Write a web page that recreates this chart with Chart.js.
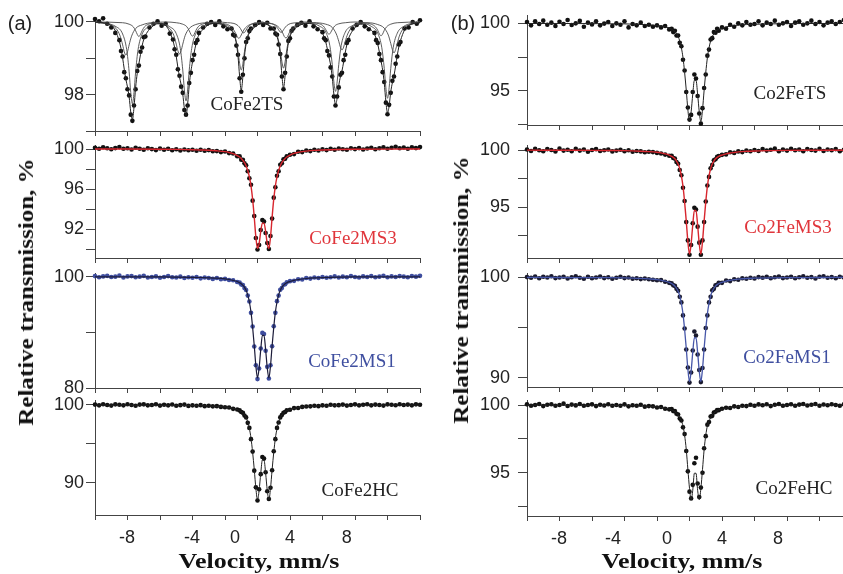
<!DOCTYPE html>
<html>
<head>
<meta charset="utf-8">
<script src="https://cdn.jsdelivr.net/npm/chart.js@4/dist/chart.umd.min.js"></script>
<style>
  body { margin: 0; width: 843px; height: 574px; overflow: hidden; background: #fff; position: relative; }
  canvas { position: absolute; }
  .txt { position: absolute; transform: translate(-50%, -50%); white-space: nowrap; line-height: 1; }
  .tag { font-family: "Liberation Sans", Arial, sans-serif; font-size: 20px; color: #222; }
  .name { font-family: "Liberation Serif", "Times New Roman", serif; font-size: 19px; color: #222; }
  .title { font-family: "Liberation Serif", "Times New Roman", serif; font-size: 20px; font-weight: bold; color: #111; }
  .ytitle { transform: translate(-50%, -50%) rotate(-90deg) scaleX(1.25); }
  .xtitle { transform: translate(-50%, -50%) scaleX(1.3); }
</style>
</head>
<body>
<canvas id="cofe2ts"></canvas>
<canvas id="cofe2ms3"></canvas>
<canvas id="cofe2ms1"></canvas>
<canvas id="cofe2hc"></canvas>
<canvas id="co2fets"></canvas>
<canvas id="co2fems3"></canvas>
<canvas id="co2fems1"></canvas>
<canvas id="co2fehc"></canvas>

<div class="txt tag" style="left:20px;top:23px">(a)</div>
<div class="txt tag" style="left:463px;top:23px">(b)</div>
<div class="txt name" style="left:247px;top:103px">CoFe2TS</div>
<div class="txt name" style="left:353px;top:237px;color:#e0353b">CoFe2MS3</div>
<div class="txt name" style="left:352px;top:360px;color:#3f4fa0">CoFe2MS1</div>
<div class="txt name" style="left:360px;top:489px">CoFe2HC</div>
<div class="txt name" style="left:790px;top:92px">Co2FeTS</div>
<div class="txt name" style="left:788px;top:226px;color:#e0353b">Co2FeMS3</div>
<div class="txt name" style="left:787px;top:356px;color:#3f4fa0">Co2FeMS1</div>
<div class="txt name" style="left:794px;top:487px">Co2FeHC</div>
<div class="txt title ytitle" style="left:26px;top:292px">Relative transmission, %</div>
<div class="txt title ytitle" style="left:461px;top:290px">Relative transmission, %</div>
<div class="txt title xtitle" style="left:259px;top:561px">Velocity, mm/s</div>
<div class="txt title xtitle" style="left:682px;top:561px">Velocity, mm/s</div>

<script>
// channel velocities (mm/s) of the doublet spectra
const velocity = [
  -10, -9.75, -9.5, -9.25, -9, -8.75, -8.5, -8.25, -8, -7.75, -7.5, -7.25, -7, -6.75, -6.5, -6.25, -6, -5.75,
  -5.5, -5.25, -5, -4.75, -4.5, -4.25, -4, -3.75, -3.5, -3.25, -3, -2.75, -2.5, -2.25, -2, -1.75, -1.5, -1.25,
  -1.1, -1, -0.9, -0.8, -0.7, -0.6, -0.5, -0.4, -0.3, -0.2, -0.1, 0, 0.1, 0.2, 0.3,
  0.4, 0.5, 0.6, 0.7, 0.8, 0.9, 1, 1.1, 1.2, 1.3, 1.4, 1.5, 1.6, 1.7, 1.8,
  2, 2.25, 2.5, 2.75, 3, 3.25, 3.5, 3.75, 4, 4.25, 4.5, 4.75, 5, 5.25, 5.5, 5.75, 6,
  6.25, 6.5, 6.75, 7, 7.25, 7.5, 7.75, 8, 8.25, 8.5, 8.75, 9, 9.25, 9.5, 9.75, 10
];
// velocities of the fitted curves
const fitVelocity = [
  -10, -8, -6, -5, -4, -3.5, -3, -2.5, -2, -1.75, -1.5, -1.25,
  -1.1, -1, -0.9, -0.8, -0.7, -0.6, -0.5, -0.4, -0.3, -0.2, -0.1, 0, 0.1, 0.2, 0.3,
  0.4, 0.5, 0.6, 0.7, 0.8, 0.9, 1, 1.1, 1.2, 1.3, 1.4, 1.5, 1.6, 1.7, 1.8,
  2, 2.25, 2.5, 2.75, 3, 3.5, 4, 5, 6, 8, 10
];

/* (a) CoFe2TS – magnetic sextet */
const sextetVelocity = [
  -10, -9.75, -9.5, -9.25, -9, -8.75,
  -8.5, -8.4, -8.3, -8.2, -8.1, -8, -7.9, -7.8, -7.7, -7.6, -7.5, -7.4, -7.3, -7.2, -7.1, -7, -6.9,
  -6.65, -6.4, -6.15, -5.9, -5.65, -5.4,
  -5.2, -5.1, -5, -4.9, -4.8, -4.7, -4.6, -4.5, -4.4, -4.3, -4.2, -4.1, -4, -3.9, -3.8, -3.7, -3.6,
  -3.35, -3.1, -2.85, -2.6, -2.35, -2.1, -1.85,
  -1.6, -1.5, -1.4, -1.3, -1.2, -1.1, -1, -0.9, -0.8, -0.7, -0.6, -0.5, -0.4,
  -0.15, 0.1, 0.35, 0.6, 0.8,
  1, 1.1, 1.2, 1.3, 1.4, 1.5, 1.6, 1.7, 1.8, 1.9, 2, 2.1, 2.2,
  2.45, 2.7, 2.95, 3.2, 3.45, 3.7,
  4, 4.1, 4.2, 4.3, 4.4, 4.5, 4.6, 4.7, 4.8, 4.9, 5, 5.1, 5.2, 5.3, 5.4, 5.5, 5.6,
  5.85, 6.1, 6.35, 6.6, 6.85,
  7.2, 7.3, 7.4, 7.5, 7.6, 7.7, 7.8, 7.9, 8, 8.1, 8.2, 8.3, 8.4, 8.5, 8.6, 8.7, 8.8,
  9.05, 9.3, 9.55, 9.8, 10
];
const sextetData = [
  100.08, 100.02, 100.1, 99.95, 99.85, 99.7,
  99.5, 99.2, 99.05, 98.62, 98.45, 98.15, 97.98, 97.45, 97.28, 97.7, 98.15, 98.65, 98.8, 99.18, 99.3, 99.58, 99.6,
  99.85, 99.95, 100.02, 99.9, 99.95, 99.68,
  99.52, 99.25, 99.1, 98.7, 98.52, 98.22, 98.05, 97.58, 97.45, 97.7, 98.32, 98.6, 98.95, 99.1, 99.42, 99.5, 99.7,
  99.85, 99.95, 100.0, 99.92, 100.02, 99.88, 99.8,
  99.82, 99.65, 99.62, 99.35, 99.1, 98.45, 98.08, 98.55, 99.0, 99.45, 99.55, 99.75, 99.82,
  99.92, 100.0, 99.92, 99.98, 99.82,
  99.82, 99.68, 99.65, 99.38, 99.12, 98.5, 98.15, 98.6, 99.05, 99.48, 99.55, 99.76, 99.82,
  99.92, 99.98, 99.9, 100.02, 99.88, 99.8,
  99.72, 99.55, 99.5, 99.2, 99.08, 98.75, 98.5, 97.95, 97.7, 97.95, 98.2, 98.55, 98.6, 98.95, 99.1, 99.42, 99.5,
  99.82, 99.92, 100.0, 99.88, 99.8,
  99.7, 99.5, 99.42, 99.12, 98.95, 98.62, 98.35, 97.78, 97.46, 97.72, 98.05, 98.38, 98.5, 98.85, 99.05, 99.38, 99.45,
  99.82, 99.85, 100.0, 99.95, 100.05
];
const sextetFit = [
  100.0, 99.99, 99.98, 99.96, 99.9, 99.76,
  99.46, 99.27, 99.01, 98.70, 98.42, 98.21, 97.94, 97.52, 97.32, 97.65, 98.20, 98.59, 98.85, 99.11, 99.35, 99.52, 99.63,
  99.8, 99.9, 99.95, 99.95, 99.9, 99.73,
  99.48, 99.30, 99.05, 98.75, 98.48, 98.28, 98.02, 97.62, 97.42, 97.74, 98.27, 98.64, 98.90, 99.15, 99.37, 99.54, 99.65,
  99.8, 99.9, 99.95, 99.96, 99.95, 99.92, 99.85,
  99.77, 99.70, 99.59, 99.40, 99.06, 98.50, 98.12, 98.50, 99.06, 99.40, 99.59, 99.70, 99.77,
  99.87, 99.94, 99.96, 99.93, 99.86,
  99.78, 99.71, 99.60, 99.42, 99.09, 98.54, 98.18, 98.54, 99.09, 99.42, 99.60, 99.71, 99.78,
  99.87, 99.93, 99.96, 99.96, 99.93, 99.84,
  99.69, 99.59, 99.45, 99.25, 99.03, 98.81, 98.47, 98.01, 97.73, 97.90, 98.25, 98.49, 98.66, 98.90, 99.16, 99.38, 99.54,
  99.76, 99.88, 99.94, 99.93, 99.84,
  99.66, 99.55, 99.39, 99.17, 98.93, 98.68, 98.32, 97.81, 97.50, 97.69, 98.08, 98.33, 98.53, 98.79, 99.08, 99.32, 99.49,
  99.78, 99.9, 99.95, 99.97, 99.98
];
// sub-spectra of the sextet fit
const sub1Velocity = [
  -10, -8.7, -8.3, -8.05, -7.9, -7.8, -7.7, -7.6, -7.5, -7.35, -7.1, -6.7, -6.05,
  -5.4, -5, -4.75, -4.6, -4.5, -4.4, -4.3, -4.2, -4.05, -3.8, -3.4, -2.7,
  -2, -1.6, -1.35, -1.2, -1.1, -1, -0.9, -0.8, -0.65, -0.4, 0, 0.3,
  0.6, 1, 1.25, 1.4, 1.5, 1.6, 1.7, 1.8, 1.95, 2.2, 2.6, 3.2,
  3.8, 4.2, 4.45, 4.6, 4.7, 4.8, 4.9, 5, 5.15, 5.4, 5.8, 6.4,
  7, 7.4, 7.65, 7.8, 7.9, 8, 8.1, 8.2, 8.35, 8.6, 9, 10
];
const sub1Values = [
  100, 99.87, 99.67, 99.24, 98.63, 98.06, 97.75, 98.06, 98.63, 99.24, 99.67, 99.87, 99.97,
  99.87, 99.68, 99.27, 98.68, 98.13, 97.83, 98.13, 98.68, 99.27, 99.68, 99.87, 99.97,
  99.92, 99.8, 99.55, 99.19, 98.86, 98.68, 98.86, 99.19, 99.55, 99.8, 99.92, 99.96,
  99.93, 99.81, 99.57, 99.23, 98.91, 98.73, 98.91, 99.23, 99.57, 99.81, 99.93, 99.97,
  99.89, 99.72, 99.35, 98.83, 98.35, 98.09, 98.35, 98.83, 99.35, 99.72, 99.89, 99.97,
  99.88, 99.69, 99.29, 98.72, 98.19, 97.9, 98.19, 98.72, 99.29, 99.69, 99.88, 100
];
const sub2Velocity = [
  -10, -8.3, -7.9, -7.65, -7.5, -7.4, -7.3, -7.2, -7.1, -6.95, -6.7, -6.3, -5.65,
  -5, -4.6, -4.35, -4.2, -4.1, -4, -3.9, -3.8, -3.65, -3.4, -3, -2.45,
  -1.85, -1.45, -1.2, -1.05, -0.95, -0.85, -0.75, -0.65, -0.5, -0.25, 0.15, 0.3,
  0.45, 0.85, 1.1, 1.25, 1.35, 1.45, 1.55, 1.65, 1.8, 2.05, 2.45, 2.95,
  3.4, 3.8, 4.05, 4.2, 4.3, 4.4, 4.5, 4.6, 4.75, 5, 5.4, 6,
  6.6, 7, 7.25, 7.4, 7.5, 7.6, 7.7, 7.8, 7.95, 8.2, 8.6, 10
];
const sub2Values = [
  100, 99.98, 99.94, 99.87, 99.76, 99.66, 99.6, 99.66, 99.76, 99.87, 99.94, 99.98, 100,
  99.98, 99.94, 99.87, 99.76, 99.66, 99.61, 99.66, 99.76, 99.87, 99.94, 99.98, 100,
  99.98, 99.96, 99.9, 99.82, 99.74, 99.7, 99.74, 99.82, 99.9, 99.96, 99.98, 100,
  99.98, 99.96, 99.9, 99.82, 99.75, 99.71, 99.75, 99.82, 99.9, 99.96, 99.98, 100,
  99.98, 99.95, 99.89, 99.79, 99.71, 99.66, 99.71, 99.79, 99.89, 99.95, 99.98, 100,
  99.98, 99.94, 99.87, 99.77, 99.67, 99.62, 99.67, 99.77, 99.87, 99.94, 99.98, 100
];
const sub3Velocity = [
  -10, -9.1, -8.7, -8.45, -8.3, -8.2, -8.1, -8, -7.9, -7.75, -7.5, -7.1, -6.45,
  -5.8, -5.4, -5.15, -5, -4.9, -4.8, -4.7, -4.6, -4.45, -4.2, -3.8, -2.95,
  -2.15, -1.75, -1.5, -1.35, -1.25, -1.15, -1.05, -0.95, -0.8, -0.55, -0.15, 0.3,
  0.75, 1.15, 1.4, 1.55, 1.65, 1.75, 1.85, 1.95, 2.1, 2.35, 2.75, 3.45,
  4.2, 4.6, 4.85, 5, 5.1, 5.2, 5.3, 5.4, 5.55, 5.8, 6.2, 6.8,
  7.4, 7.8, 8.05, 8.2, 8.3, 8.4, 8.5, 8.6, 8.75, 9, 9.4, 10
];
const sub3Values = [
  100, 99.92, 99.82, 99.61, 99.37, 99.18, 99.09, 99.18, 99.37, 99.61, 99.82, 99.92, 99.98,
  99.93, 99.82, 99.63, 99.39, 99.21, 99.12, 99.21, 99.39, 99.63, 99.82, 99.93, 99.98,
  99.96, 99.91, 99.81, 99.69, 99.6, 99.55, 99.6, 99.69, 99.81, 99.91, 99.96, 99.99,
  99.96, 99.91, 99.81, 99.7, 99.6, 99.56, 99.6, 99.7, 99.81, 99.91, 99.96, 99.98,
  99.94, 99.85, 99.67, 99.47, 99.31, 99.23, 99.31, 99.47, 99.67, 99.85, 99.94, 99.98,
  99.93, 99.83, 99.64, 99.41, 99.24, 99.15, 99.24, 99.41, 99.64, 99.83, 99.93, 100
];

/* (a) CoFe2MS3 */
const cofe2ms3Data = [
  100.15, 100.05, 100.2, 100.1, 100.0, 100.12, 100.22, 100.05, 100.1, 99.98, 100.15, 100.06, 99.95, 100.1, 100.02, 99.92, 100.08, 99.95,
  100.05, 99.9, 100.0, 99.88, 99.98, 99.9, 99.96, 99.85, 99.95, 99.86, 99.92, 99.8, 99.82, 99.72, 99.78, 99.62, 99.58, 99.3,
  99.3, 98.95, 98.95, 98.6, 98.4, 97.8, 97.1, 96.45, 94.85, 93.3, 91.1, 89.95, 90.4, 91.9, 92.9,
  92.75, 91.6, 90.6, 90.0, 91.3, 93.05, 95.15, 96.2, 97.35, 97.8, 98.45, 98.6, 99.0, 99.05, 99.3,
  99.45, 99.52, 99.75, 99.72, 99.88, 99.82, 99.95, 99.88, 100.0, 99.92, 100.05, 99.95, 100.08, 100.0, 99.95, 100.1, 100.02,
  100.12, 99.98, 100.08, 100.15, 100.0, 100.1, 100.2, 100.05, 100.15, 100.25, 100.1, 100.18, 100.05, 100.2, 100.12, 100.22
];
const cofe2ms3Fit = [
  100.03, 100.03, 100.01, 99.99, 99.95, 99.93, 99.91, 99.85, 99.76, 99.68, 99.56, 99.37,
  99.22, 99.07, 98.89, 98.66, 98.33, 97.88, 97.24, 96.34, 95.0, 93.19, 91.19, 90.05, 90.53, 91.76, 92.6,
  92.6, 91.76, 90.53, 90.05, 91.19, 93.19, 95.0, 96.34, 97.24, 97.88, 98.33, 98.66, 98.89, 99.07, 99.22,
  99.42, 99.59, 99.69, 99.77, 99.82, 99.89, 99.93, 99.98, 100.0, 100.02, 100.03
];

/* (a) CoFe2MS1 */
const cofe2ms1Data = [
  100.1, 99.9, 100.05, 100.15, 99.95, 100.0, 100.2, 99.85, 100.05, 100.1, 99.9, 100.0, 100.15, 99.85, 99.95, 100.05, 99.8, 99.95,
  100.1, 99.9, 99.85, 100.0, 99.75, 99.9, 99.8, 99.95, 99.7, 99.85, 99.75, 99.6, 99.75, 99.55, 99.6, 99.4, 99.35, 99.05,
  98.95, 98.6, 98.5, 97.95, 97.6, 96.6, 95.55, 93.5, 91.05, 87.45, 84.1, 81.6, 83.5, 87.1, 89.9,
  89.7, 86.7, 83.8, 81.7, 84.1, 87.5, 91.1, 93.5, 95.6, 96.6, 97.65, 97.95, 98.55, 98.65, 99.0,
  99.2, 99.25, 99.55, 99.5, 99.75, 99.65, 99.85, 99.75, 99.95, 99.8, 99.9, 100.05, 99.85, 100.0, 99.9, 100.1, 99.95,
  99.85, 100.05, 99.95, 100.1, 99.9, 100.0, 100.15, 99.9, 100.05, 99.95, 100.1, 100.0, 99.9, 100.1, 100.0, 100.15
];
const cofe2ms1Fit = [
  99.98, 99.96, 99.95, 99.93, 99.89, 99.85, 99.8, 99.73, 99.6, 99.49, 99.34, 99.13,
  98.91, 98.73, 98.45, 98.09, 97.54, 96.72, 95.45, 93.63, 90.9, 87.62, 83.98, 81.8, 83.62, 86.9, 89.44,
  89.44, 86.9, 83.62, 81.8, 83.98, 87.62, 90.9, 93.63, 95.45, 96.72, 97.54, 98.09, 98.45, 98.73, 98.91,
  99.13, 99.34, 99.47, 99.58, 99.67, 99.78, 99.84, 99.91, 99.95, 99.96, 99.98
];

/* (a) CoFe2HC */
const cofe2hcData = [
  100.05, 99.95, 100.1, 100.0, 99.92, 100.08, 100.02, 99.95, 100.1, 100.0, 99.9, 100.05, 100.08, 99.95, 100.0, 100.1, 99.92, 100.02,
  99.95, 100.06, 99.9, 99.98, 100.05, 99.88, 99.95, 99.9, 99.98, 99.85, 99.9, 99.82, 99.85, 99.75, 99.7, 99.68, 99.5, 99.42,
  99.3, 99.1, 99.0, 98.65, 98.4, 97.7, 97.05, 95.6, 94.0, 91.55, 89.4, 87.7, 89.15, 91.1, 93.3,
  93.1, 91.35, 88.9, 87.9, 89.35, 91.6, 94.05, 95.6, 97.05, 97.75, 98.4, 98.7, 99.0, 99.1, 99.32,
  99.38, 99.6, 99.62, 99.75, 99.8, 99.82, 99.9, 99.85, 99.95, 99.9, 100.02, 99.95, 99.98, 100.05, 99.92, 100.0, 100.08,
  99.95, 100.02, 100.1, 99.95, 100.05, 100.0, 99.92, 100.08, 100.02, 99.96, 100.1, 100.0, 100.05, 99.95, 100.08, 100.02
];
const cofe2hcFit = [
  99.99, 99.98, 99.96, 99.95, 99.93, 99.9, 99.87, 99.82, 99.73, 99.66, 99.56, 99.41,
  99.27, 99.15, 98.96, 98.72, 98.35, 97.8, 96.95, 95.73, 93.9, 91.7, 89.26, 87.8, 89.02, 91.22, 92.92,
  92.92, 91.22, 89.02, 87.8, 89.26, 91.7, 93.9, 95.73, 96.95, 97.8, 98.35, 98.72, 98.96, 99.15, 99.27,
  99.41, 99.56, 99.65, 99.72, 99.78, 99.85, 99.89, 99.94, 99.96, 99.98, 99.99
];

/* (b) Co2FeTS */
const co2fetsData = [
  100.1, 99.85, 100.15, 99.95, 100.2, 99.9, 100.05, 99.8, 100.12, 99.95, 100.25, 99.88, 100.0, 100.18, 99.75, 100.05, 99.92, 100.15,
  99.85, 99.98, 100.1, 99.8, 100.0, 99.9, 100.15, 99.7, 99.95, 99.85, 100.05, 99.8, 99.9, 99.75, 99.85, 99.7, 99.8, 99.55,
  99.6, 99.35, 99.45, 99.1, 99.1, 98.55, 98.3, 97.3, 96.5, 94.9, 93.75, 92.85, 93.2, 94.9, 96.2,
  95.9, 94.6, 93.3, 92.55, 93.7, 95.2, 96.2, 97.6, 98.05, 98.8, 98.9, 99.35, 99.3, 99.6, 99.45,
  99.7, 99.6, 99.9, 99.75, 100.0, 99.85, 100.1, 99.9, 99.95, 100.15, 99.85, 100.05, 99.95, 100.2, 99.9, 100.0, 100.1,
  99.8, 100.05, 100.15, 99.9, 100.0, 100.2, 99.95, 100.1, 99.85, 100.05, 100.15, 99.95, 100.1, 100.25, 100.0, 100.1
];
const co2fetsFit = [
  99.99, 99.99, 99.98, 99.97, 99.96, 99.94, 99.92, 99.89, 99.84, 99.8, 99.74, 99.65,
  99.56, 99.49, 99.38, 99.23, 99.01, 98.69, 98.18, 97.45, 96.35, 95.04, 93.58, 92.7, 93.43, 94.74, 95.77,
  95.77, 94.74, 93.43, 92.7, 93.58, 95.04, 96.35, 97.45, 98.18, 98.69, 99.01, 99.23, 99.38, 99.49, 99.56,
  99.65, 99.74, 99.79, 99.83, 99.87, 99.91, 99.93, 99.96, 99.98, 99.99, 99.99
];

/* (b) Co2FeMS3 */
const co2fems3Data = [
  100.05, 99.92, 100.1, 99.98, 99.9, 100.08, 100.0, 99.88, 100.12, 99.95, 100.02, 99.9, 100.1, 99.95, 100.05, 99.85, 100.0, 100.08,
  99.92, 99.98, 100.05, 99.88, 99.95, 100.02, 99.9, 99.98, 99.85, 99.92, 99.88, 99.8, 99.85, 99.82, 99.75, 99.7, 99.6, 99.5,
  99.5, 99.3, 99.25, 98.95, 98.8, 98.25, 97.8, 96.7, 95.55, 93.7, 92.1, 90.85, 91.7, 93.6, 94.95,
  94.8, 93.3, 91.9, 90.85, 92.1, 93.7, 95.5, 96.9, 97.65, 98.4, 98.7, 99.1, 99.2, 99.4, 99.48,
  99.58, 99.62, 99.8, 99.75, 99.88, 99.82, 99.95, 99.9, 100.0, 99.92, 100.08, 99.95, 100.02, 100.12, 99.9, 100.05, 99.95,
  100.1, 99.98, 100.05, 99.9, 100.08, 100.0, 99.95, 100.1, 99.92, 100.05, 99.98, 100.08, 99.9, 100.02, 99.95, 100.05
];
const co2fems3Fit = [
  99.99, 99.98, 99.97, 99.96, 99.95, 99.93, 99.9, 99.86, 99.8, 99.75, 99.67, 99.56,
  99.45, 99.36, 99.23, 99.04, 98.77, 98.36, 97.73, 96.82, 95.45, 93.81, 91.99, 90.9, 91.81, 93.45, 94.72,
  94.72, 93.45, 91.81, 90.9, 91.99, 93.81, 95.45, 96.82, 97.73, 98.36, 98.77, 99.04, 99.23, 99.36, 99.45,
  99.56, 99.67, 99.74, 99.79, 99.84, 99.89, 99.92, 99.95, 99.97, 99.98, 99.99
];

/* (b) Co2FeMS1 */
const co2fems1Data = [
  100.02, 99.95, 100.08, 99.9, 100.05, 99.98, 100.1, 99.92, 99.98, 100.06, 99.88, 100.0, 100.1, 99.95, 99.85, 100.05, 99.9, 99.98,
  100.08, 99.92, 100.0, 99.85, 99.95, 100.05, 99.92, 99.98, 99.85, 99.9, 99.82, 99.88, 99.8, 99.75, 99.7, 99.72, 99.55, 99.45,
  99.4, 99.2, 99.15, 98.85, 98.65, 98.05, 97.5, 96.2, 94.9, 92.8, 91.0, 89.5, 90.5, 92.7, 94.6,
  94.2, 92.3, 90.75, 89.55, 90.95, 92.8, 94.95, 96.2, 97.5, 98.05, 98.7, 98.85, 99.2, 99.25, 99.45,
  99.45, 99.68, 99.62, 99.8, 99.75, 99.9, 99.85, 99.95, 99.88, 100.02, 99.95, 100.05, 99.9, 100.0, 100.08, 99.92, 99.98,
  100.05, 99.9, 100.0, 100.1, 99.95, 100.02, 99.88, 100.05, 100.1, 99.95, 100.02, 99.9, 100.05, 99.98, 100.08, 99.95
];
const co2fems1Fit = [
  99.99, 99.98, 99.97, 99.96, 99.94, 99.92, 99.89, 99.84, 99.77, 99.71, 99.63, 99.5,
  99.38, 99.27, 99.12, 98.91, 98.6, 98.13, 97.4, 96.36, 94.8, 92.93, 90.85, 89.6, 90.64, 92.51, 93.97,
  93.97, 92.51, 90.64, 89.6, 90.85, 92.93, 94.8, 96.36, 97.4, 98.13, 98.6, 98.91, 99.12, 99.27, 99.38,
  99.5, 99.63, 99.7, 99.76, 99.81, 99.88, 99.91, 99.95, 99.97, 99.98, 99.99
];

/* (b) Co2FeHC */
const co2fehcData = [
  100.05, 99.95, 100.0, 100.08, 99.92, 100.02, 100.06, 99.95, 100.0, 100.1, 99.93, 100.03, 99.97, 100.07, 99.95, 100.0, 100.05, 99.92,
  100.02, 99.96, 100.06, 99.94, 100.0, 99.95, 100.05, 99.9, 99.98, 99.94, 100.02, 99.88, 99.92, 99.9, 99.82, 99.85, 99.72, 99.68,
  99.7, 99.55, 99.55, 99.35, 99.3, 99.0, 98.85, 98.35, 97.85, 96.6, 95.1, 93.6, 93.1, 94.1, 95.7,
  96.1, 94.2, 93.2, 93.9, 95.0, 96.8, 97.7, 98.55, 98.75, 99.15, 99.2, 99.45, 99.5, 99.62, 99.62,
  99.72, 99.8, 99.78, 99.9, 99.85, 99.95, 99.92, 100.02, 99.95, 100.05, 99.98, 100.06, 99.92, 100.02, 100.08, 99.95, 100.0,
  100.06, 99.94, 100.03, 100.08, 99.96, 100.02, 100.07, 99.95, 100.04, 99.98, 100.06, 100.0, 99.95, 100.05, 100.02, 99.97
];
const co2fehcFit = [
  100.0, 99.99, 99.98, 99.97, 99.96, 99.95, 99.93, 99.9, 99.85, 99.81, 99.76, 99.7,
  99.65, 99.58, 99.51, 99.41, 99.27, 99.06, 98.81, 98.46, 97.76, 96.71, 95.24, 93.84, 93.0, 93.7, 94.96,
  94.96, 93.7, 93.0, 93.84, 95.24, 96.71, 97.76, 98.46, 98.81, 99.06, 99.27, 99.41, 99.51, 99.58, 99.65,
  99.7, 99.77, 99.82, 99.86, 99.89, 99.92, 99.94, 99.97, 99.98, 99.99, 100.0
];

// axis ticks
const velocityTicks = [-10, -8, -6, -4, -2, 0, 2, 4, 6, 8, 10];
const velocityLabels = [-8, -4, 0, 4, 8];
const tsTicks = [97, 98, 99, 100], tsLabels = [98, 100];
const ms3Ticks = [90, 92, 94, 96, 98, 100], ms3Labels = [92, 96, 100];
const ms1Ticks = [80, 90, 100], ms1Labels = [80, 100];
const hcTicks = [90, 95, 100], hcLabels = [90, 100];
const co2Ticks = [92.5, 95, 97.5, 100], co2Labels = [95, 100];
const co2Ms1Ticks = [90, 95, 100], co2Ms1Labels = [90, 100];

const BLACK = '#111', RED = '#d8262e', BLUE = '#3e4d9e', AXIS = '#444';
const TICK_FONT = { family: '"Liberation Sans", Arial, sans-serif', size: 18 };

function toPoints(xs, ys) {
  return xs.map((x, i) => ({ x: x, y: ys[i] }));
}

function dots(xs, ys, color) {
  return {
    data: toPoints(xs, ys), showLine: false, pointRadius: 2.3, pointBorderWidth: 0,
    pointBackgroundColor: color, clip: false, order: 3
  };
}

function curve(xs, ys, color, width, order) {
  return {
    data: toPoints(xs, ys), borderColor: color, borderWidth: width, pointRadius: 0,
    cubicInterpolationMode: 'monotone', order: order
  };
}

function makePanel(id, box, datasets) {
  const canvas = document.getElementById(id);
  const padTop = 10;
  const axisH = box.labelAt ? 40 : 14;
  canvas.width = 425;
  canvas.height = padTop + (box.bottom - box.top) + axisH;
  canvas.style.left = box.left + 'px';
  canvas.style.top = (box.top - padTop) + 'px';

  const scales = {
    x: {
      type: 'linear', min: -10, max: 10, weight: 0,
      afterBuildTicks: s => { s.ticks = velocityTicks.map(v => ({ value: v })); },
      afterFit: s => { s.height = box.labelAt ? 5 : axisH; s.paddingLeft = 0; s.paddingRight = 0; },
      grid: { drawOnChartArea: false, drawTicks: true, tickLength: 5, tickColor: AXIS },
      border: { display: true, color: AXIS, width: 1 },
      ticks: { display: false }
    },
    y: {
      type: 'linear', min: box.yMin, max: box.yMax,
      afterBuildTicks: s => { s.ticks = box.yTicks.map(v => ({ value: v })); },
      afterFit: s => { s.width = 95; s.paddingTop = 0; s.paddingBottom = 0; },
      grid: { drawOnChartArea: false, drawTicks: true, tickLength: 9, tickColor: AXIS },
      border: { display: true, color: AXIS, width: 1 },
      ticks: {
        autoSkip: false, padding: box.left > 0 ? 8 : 2, color: '#222', font: TICK_FONT,
        callback: v => box.yLabels.includes(v) ? String(v) : ''
      }
    }
  };
  if (box.labelAt) {
    // velocity labels sit where the original figure printed them
    scales.xl = {
      type: 'linear', position: 'bottom', min: -10, max: 10, weight: 1,
      afterBuildTicks: s => { s.ticks = box.labelAt.map(v => ({ value: v })); },
      afterFit: s => { s.height = axisH - 5; s.paddingLeft = 0; s.paddingRight = 0; },
      grid: { display: false, drawTicks: false },
      border: { display: false },
      ticks: {
        autoSkip: false, maxRotation: 0, padding: 7, color: '#222', font: TICK_FONT,
        callback: (v, i) => String(velocityLabels[i])
      }
    };
  }

  new Chart(canvas, {
    type: 'line',
    data: { datasets: datasets },
    options: {
      responsive: false,
      animation: false,
      devicePixelRatio: 1,
      layout: { padding: { top: padTop, right: 5, left: 0, bottom: 0 } },
      plugins: { legend: { display: false }, tooltip: { enabled: false } },
      scales: scales
    }
  });
}

makePanel('cofe2ts', { left: 0, top: 18, bottom: 131, yMin: 97.0, yMax: 100.11, yTicks: tsTicks, yLabels: tsLabels }, [
  curve(sub1Velocity, sub1Values, '#4a4a4a', 0.9, 1),
  curve(sub2Velocity, sub2Values, '#4a4a4a', 0.9, 1),
  curve(sub3Velocity, sub3Values, '#4a4a4a', 0.9, 1),
  curve(sextetVelocity, sextetFit, '#222', 1, 0),
  dots(sextetVelocity, sextetData, BLACK)
]);
makePanel('cofe2ms3', { left: 0, top: 145, bottom: 258, yMin: 89.1, yMax: 100.43, yTicks: ms3Ticks, yLabels: ms3Labels }, [
  curve(fitVelocity, cofe2ms3Fit, RED, 1.4, 0),
  dots(velocity, cofe2ms3Data, BLACK)
]);
makePanel('cofe2ms1', { left: 0, top: 273, bottom: 388, yMin: 80, yMax: 100.66, yTicks: ms1Ticks, yLabels: ms1Labels }, [
  curve(fitVelocity, cofe2ms1Fit, '#1c1c3a', 1.2, 0),
  dots(velocity, cofe2ms1Data, BLUE)
]);
makePanel('cofe2hc', { left: 0, top: 400, bottom: 515, yMin: 85.84, yMax: 100.64, yTicks: hcTicks, yLabels: hcLabels,
  labelAt: [-8.03, -4.03, -1.38, 2.0, 5.5] }, [
  curve(fitVelocity, cofe2hcFit, '#222', 1, 0),
  dots(velocity, cofe2hcData, BLACK)
]);
makePanel('co2fets', { left: 432, top: 15, bottom: 125, yMin: 92.45, yMax: 100.62, yTicks: co2Ticks, yLabels: co2Labels }, [
  curve(fitVelocity, co2fetsFit, '#222', 1, 0),
  dots(velocity, co2fetsData, BLACK)
]);
makePanel('co2fems3', { left: 432, top: 145, bottom: 258, yMin: 90.56, yMax: 100.44, yTicks: co2Ticks, yLabels: co2Labels }, [
  curve(fitVelocity, co2fems3Fit, RED, 1.4, 0),
  dots(velocity, co2fems3Data, BLACK)
]);
makePanel('co2fems1', { left: 432, top: 273, bottom: 387, yMin: 89.06, yMax: 100.43, yTicks: co2Ms1Ticks, yLabels: co2Ms1Labels }, [
  curve(fitVelocity, co2fems1Fit, '#4656a8', 1.3, 0),
  dots(velocity, co2fems1Data, '#1a1a2e')
]);
makePanel('co2fehc', { left: 432, top: 400, bottom: 516, yMin: 91.8, yMax: 100.37, yTicks: co2Ticks, yLabels: co2Labels,
  labelAt: [-8.03, -4.71, -1.38, 2.0, 5.45] }, [
  curve(fitVelocity, co2fehcFit, '#222', 1, 0),
  dots(velocity, co2fehcData, BLACK)
]);
</script>
</body>
</html>
